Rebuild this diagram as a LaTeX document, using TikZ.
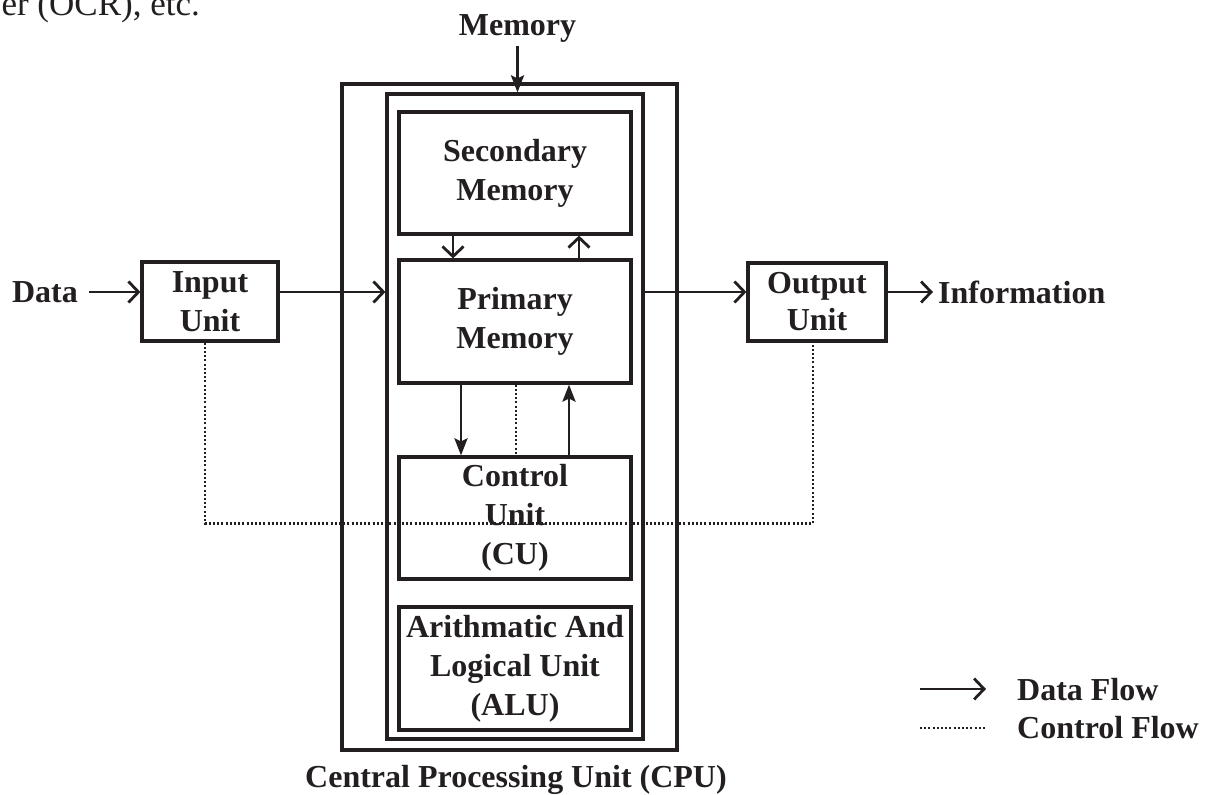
\documentclass[tikz,border=0pt]{standalone}
\usepackage{fontspec}
\setmainfont{Liberation Serif}
\usetikzlibrary{arrows.meta}
\definecolor{ink}{HTML}{231F20}
\begin{document}
\begin{tikzpicture}[x=1pt,y=-1pt,
  every node/.style={text=ink},
  box/.style={draw=ink, line width=3.2pt, inner sep=0pt, align=center,
    font=\bfseries\fontsize{32}{39}\selectfont},
  lbl/.style={inner sep=0pt, font=\bfseries\fontsize{32}{39}\selectfont},
  df/.style={draw=ink, line width=2.8pt, -{Straight Barb[length=10pt,width=21pt]}},
  fa/.style={draw=ink, line width=2.8pt, -{Stealth[length=17pt,width=13pt,inset=3pt]}},
  ctrl/.style={draw=ink, line width=2.4pt, dash pattern=on 2pt off 2.2pt}]
\useasboundingbox (0,0) rectangle (1208,795);

% page fragment at top left
\node[anchor=base east, inner sep=0pt, font=\fontsize{35}{40}\selectfont] (frag) at (200,15) {er (OCR), etc.};

% CPU boxes
\node[box, minimum width=335pt, minimum height=666pt] (cpu) at (509.5,417) {};
\node[box, minimum width=256pt, minimum height=645pt] (inner) at (515,416.5) {};
\node[box, minimum width=232pt, minimum height=122pt] (sec) at (515,173) {Secondary\\Memory};
\node[box, minimum width=232pt, minimum height=123pt] (prim) at (515,321.5) {Primary\\Memory};
\node[box, minimum width=232pt, minimum height=122pt] (cu) at (515,518) {Control\\Unit\\(CU)};
\node[box, minimum width=232pt, minimum height=123pt] (alu) at (515,668.5) {Arithmatic And\\Logical Unit\\(ALU)};

% input / output
\node[box, minimum width=136pt, minimum height=79pt] (input) at (210,301.5) {Input\\Unit};
\node[box, minimum width=138pt, minimum height=78pt] (output) at (817,302) {Output\\[-2pt]Unit};

% labels
\node[lbl] (data) at (45,292) {Data};
\node[lbl, anchor=west] (info) at (938,292) {Information};
\node[lbl, anchor=base] (mem) at (517.5,35) {Memory};
\node[lbl, anchor=base] (cpulbl) at (516,787) {Central Processing Unit (CPU)};
\node[lbl, anchor=base west] (dflbl) at (1017,700) {Data Flow};
\node[lbl, anchor=base west] (cflbl) at (1017,738) {Control Flow};

% data flow
\draw[df] ([xshift=11pt]data.east) -- (input.west |- data.east);
\draw[df] (input.east |- data.east) -- (inner.west |- data.east);
\draw[df] (inner.east |- data.east) -- (output.west |- data.east);
\draw[df] (output.east |- data.east) -- ([xshift=-5pt]info.west);
\draw[fa] ([yshift=-4pt]mem.south) -- (mem.south |- inner.north);

\draw[df] ([xshift=-62pt]sec.south) -- ([xshift=-62pt]prim.north);
\draw[df] ([xshift=64pt]prim.north) -- ([xshift=64pt]sec.south);
\draw[fa] ([xshift=-54pt]prim.south) -- ([xshift=-54pt]cu.north);
\draw[fa] ([xshift=54pt]cu.north) -- ([xshift=54pt]prim.south);

% control flow
\draw[ctrl] ([xshift=1pt]prim.south) -- ([xshift=1pt]cu.north);
\draw[ctrl] ([xshift=-5pt]input.south) -- ++(0,181) -| ([xshift=-4pt]output.south);

% legend
\draw[df] ([xshift=-97pt,yshift=11pt]dflbl.base west) -- ([xshift=-31pt,yshift=11pt]dflbl.base west);
\draw[ctrl] ([xshift=-97pt,yshift=10pt]cflbl.base west) -- ([xshift=-30pt,yshift=10pt]cflbl.base west);
\end{tikzpicture}
\end{document}
